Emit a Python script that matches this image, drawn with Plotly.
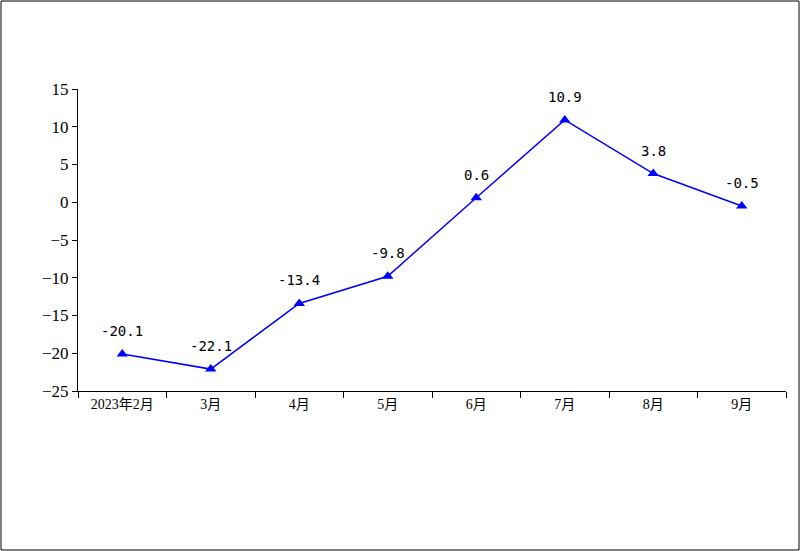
import plotly.graph_objs as go

months = ['2023年2月', '3月', '4月', '5月', '6月', '7月', '8月', '9月']
values = [-20.1, -22.1, -13.4, -9.8, 0.6, 10.9, 3.8, -0.5]
y_ticks = [15, 10, 5, 0, -5, -10, -15, -20, -25]

W, H = 800, 551
L, R, T, B = 78, 14, 89, 160
pw, ph = W - L - R, H - T - B

trace = go.Scatter(
    x=months,
    y=values,
    mode='lines+markers',
    line={'color': '#0000ff', 'width': 1.5},
    marker={'symbol': 'triangle-up', 'size': 10, 'color': '#0000ff'},
    cliponaxis=False,
    hoverinfo='skip',
)

# value labels above each point
labels = []
for m, v in zip(months, values):
    labels.append(dict(
        x=m, y=v, text=str(v), showarrow=False, yshift=23,
        font={'family': 'DejaVu Sans Mono, Liberation Mono', 'size': 14, 'color': '#000000'},
    ))

layout = go.Layout(
    width=W,
    height=H,
    margin={'l': L, 'r': R, 't': T, 'b': B},
    paper_bgcolor='white',
    plot_bgcolor='white',
    showlegend=False,
    font={'family': 'Liberation Serif, Noto Sans CJK SC', 'color': '#000000'},
    xaxis={
        'type': 'category',
        'showline': True,
        'linecolor': '#000000',
        'linewidth': 1,
        'ticks': 'outside',
        'tickson': 'boundaries',
        'ticklen': 6,
        'tickcolor': '#000000',
        'showgrid': False,
        'zeroline': False,
        'tickfont': {'family': 'Liberation Serif, Noto Sans CJK SC', 'size': 14},
        'range': [-0.5, len(months) - 0.5],
    },
    yaxis={
        'range': [-25, 15],
        'tickvals': y_ticks,
        'showline': True,
        'linecolor': '#000000',
        'linewidth': 1,
        'ticks': 'outside',
        'ticklen': 5,
        'tickcolor': '#000000',
        'showgrid': False,
        'zeroline': False,
        'tickfont': {'family': 'Liberation Serif', 'size': 17},
    },
    annotations=labels,
    shapes=[dict(
        type='rect', xref='paper', yref='paper',
        x0=(1 - L) / pw, x1=(W - 1 - L) / pw,
        y0=-(B - 1) / ph, y1=1 + (T - 1) / ph,
        line={'color': '#000000', 'width': 1},
    )],
)

fig = go.Figure(data=[trace], layout=layout)
# drop the default page margin so the figure sits at the window corner
fig.write_html("out.html", config={'displayModeBar': False},
               post_script="document.body.style.margin='0';")
